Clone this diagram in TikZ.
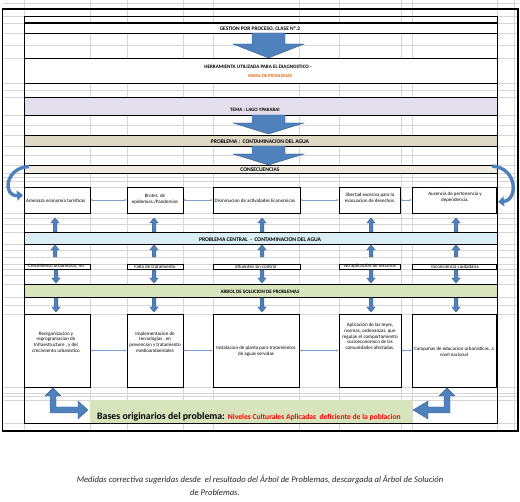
\documentclass[tikz,border=0pt]{standalone}
\usepackage{fontspec}
\setmainfont{Carlito}
\usetikzlibrary{arrows.meta}
\definecolor{ablue}{HTML}{4F81BD}
\definecolor{adark}{HTML}{385D8A}
\definecolor{thinblue}{HTML}{7F9FCF}
\definecolor{rowlav}{HTML}{E4DFEC}
\definecolor{rowtan}{HTML}{DDD9C4}
\definecolor{rowcons}{HTML}{EEECE1}
\definecolor{rowblue}{HTML}{DAEEF3}
\definecolor{rowgreen}{HTML}{D8E4BC}
\definecolor{orangetxt}{HTML}{E26B0A}
\definecolor{gridc}{HTML}{D6D6D6}
\newcommand\tf{\fontsize{5.0}{5.7}\selectfont}
\newcommand\fsz[1]{\fontsize{#1}{#1}\selectfont\bfseries}
\newcommand\upblk[3]{\filldraw[blk] (#1-1.8,#3) -- (#1-1.8,#2+5) -- (#1-4.2,#2+5) -- (#1,#2) -- (#1+4.2,#2+5) -- (#1+1.8,#2+5) -- (#1+1.8,#3) -- cycle;}
\newcommand\downblk[3]{\filldraw[blk] (#1-1.8,#2) -- (#1-1.8,#3-5) -- (#1-4.2,#3-5) -- (#1,#3) -- (#1+4.2,#3-5) -- (#1+1.8,#3-5) -- (#1+1.8,#2) -- cycle;}
\newcommand\bigblk[3]{\filldraw[blk] (252,#1) -- (252,#2) -- (233,#2) -- (268.5,#3) -- (304,#2) -- (285,#2) -- (285,#1) -- cycle;}
\begin{document}
\begin{tikzpicture}[x=1pt,y=-1pt,
  gridl/.style={draw=gridc,line width=0.4pt},
  bord/.style={draw=black,line width=0.8pt},
  cbox/.style={draw=black,line width=0.9pt,fill=white,inner sep=0,minimum height=26},
  pbox/.style={draw=black,line width=0.8pt,fill=white,inner sep=0,minimum height=5},
  sbox/.style={draw=black,line width=0.9pt,fill=white,inner sep=0,minimum height=73},
  lbl/.style={font=\tf,align=center,inner sep=0},
  ttl/.style={align=center,inner sep=0},
  dbl/.style={{Stealth[length=2.2pt,width=2.2pt]}-{Stealth[length=2.2pt,width=2.2pt]},draw=thinblue,line width=0.45pt},
  blk/.style={fill=ablue,draw=adark,line width=0.4pt},
  curv/.style={draw=ablue,line width=3.4pt,-{Triangle[length=6pt,width=10pt]}}]
\useasboundingbox (0,0) rectangle (520,502);
% spreadsheet gridlines
\foreach \yy in {3,16,23,33,45,58,83,90,97,115,125,135,146,155,165,173,177,181,187,213,218,224,232,244,250,257,264,269,275,284,297,305,314,387,393,396,400,423}
  \draw[gridl] (2.5,\yy) -- (518,\yy);
\foreach \xx in {24,90,127,183,213,299,339,401,412,497,514}
  \draw[gridl] (\xx,0) -- (\xx,431);
% merged / coloured rows
\fill[white] (24,23) rectangle (497,33);
\fill[white] (24,58) rectangle (497,83);
\fill[rowlav] (24,97) rectangle (497,115);
\fill[rowtan] (24,135) rectangle (497,146);
\fill[rowcons] (24,165) rectangle (497,173);
\fill[rowblue] (24,232) rectangle (497,244);
\fill[rowgreen] (24,284) rectangle (497,297);
% black borders
\foreach \yy in {33,58,83,97,115,135,146,165,173,232,244,284,297}
  \draw[bord] (24,\yy) -- (497,\yy);
\draw[draw=black,line width=1.3pt] (24,23) -- (497,23);
\draw[bord] (24,16) rectangle (497,423);
\draw[draw=black,line width=1.6pt] (2.5,9) rectangle (518,431);
% titles
\node[ttl,font=\fsz{5.4}] (t1) at (260,29) {GESTION POR PROCESO, CLASE Nº.2};
\node[ttl,font=\fsz{5.1}] (t2) at (258,67) {HERRAMIENTA UTILIZADA PARA EL DIAGNOSTICO -};
\node[ttl,font=\fsz{4.6},text=orangetxt] (t3) at (270,76) {ARBOL DE PROBLEMAS};
\node[ttl,font=\fsz{5.0}] (t4) at (255,110) {TEMA : LAGO YPAKARAI};
\node[ttl,font=\fsz{5.6}] (t5) at (260,141.5) {PROBLEMA :\ \ CONTAMINACION DEL AGUA};
\node[ttl,font=\fsz{5.6}] (t6) at (260,169.5) {CONSECUENCIAS};
\node[ttl,font=\fsz{5.6}] (t7) at (260,240) {PROBLEMA CENTRAL\ \ -\ \ CONTAMINACION DEL AGUA};
\node[ttl,font=\fsz{5.1}] (t8) at (260,291.5) {ARBOL DE SOLUCION DE PROBLEMAS};
% big arrows
\bigblk{33}{44}{58}
\bigblk{115}{123}{134}
\bigblk{146}{154}{165}
% consequence boxes
\node[cbox,minimum width=66] (c1) at (57,200) {};
\node[cbox,minimum width=56] (c2) at (155,200) {};
\node[cbox,minimum width=87] (c3) at (256.5,200) {};
\node[cbox,minimum width=61] (c4) at (369.5,200) {};
\node[cbox,minimum width=84] (c5) at (454,200) {};
\node[lbl,anchor=west] (c1t) at (26,201) {Amenaza economía turísticas};
\node[lbl] (c2t) at (155,199.5) {Brotes\ \ de\\epidemias./Pandemias};
\node[lbl,anchor=west] (c3t) at (214.5,201) {Disminucion de actividades Economicas};
\node[lbl] (c4t) at (370,197.5) {libertad excesiva para la\\evacuacion de desechos.};
\node[lbl] (c5t) at (455,197.5) {Ausencia de pertenencia y\\dependencia.};
\draw[dbl] (c1.east) -- (c2.west);
\draw[dbl] (c2.east) -- (c3.west);
\draw[dbl] (c3.east) -- (c4.west);
\draw[dbl] (c4.east) -- (c5.west);
% curved arrows
\draw[curv] (29,166.5) .. controls (4,168) and (3,197) .. (23,195);
\draw[curv] (492,166) .. controls (518,168) and (518,200) .. (498,202);
% up arrows to consequences
\foreach \xx in {55,154,262,371,456} {\upblk{\xx}{218}{232} \upblk{\xx}{245}{257}}
% problem boxes
\node[pbox,minimum width=66] (p1) at (57,266.5) {};
\node[pbox,minimum width=56] (p2) at (155,266.5) {};
\node[pbox,minimum width=87] (p3) at (256.5,266.5) {};
\node[pbox,minimum width=61] (p4) at (369.5,266.5) {};
\node[pbox,minimum width=84] (p5) at (454,266.5) {};
\node[lbl] (p1t) at (56,266.5) {Crecimiento urbanístico, no};
\node[lbl] (p2t) at (155,266.5) {Falta de tratamiento};
\node[lbl] (p3t) at (256,266.5) {Efluentes sin control};
\node[lbl] (p4t) at (370,266.5) {No aplicación de recursos};
\node[lbl] (p5t) at (455,266.5) {Inconciencia ciudadana};
\foreach \xx in {56,154,262,371,456} {\downblk{\xx}{270}{283} \downblk{\xx}{298}{312}}
% solution boxes
\node[sbox,minimum width=66] (s1) at (57,350.5) {};
\node[sbox,minimum width=56] (s2) at (155,350.5) {};
\node[sbox,minimum width=86] (s3) at (256,350.5) {};
\node[sbox,minimum width=62] (s4) at (370,350.5) {};
\node[sbox,minimum width=84] (s5) at (454,350.5) {};
\node[lbl] (s1t) at (56,342) {Reorganizacion y\\reprogramacion de\\Infraestructure , y del\\crecimiento urbanistico};
\node[lbl] (s2t) at (155,342) {Implementacion de\\tecnologias , en\\prevencion y tratamiento\\medioambientales};
\node[lbl] (s3t) at (256,351.5) {Instalacion de planta para tratamientos\\de aguas servidas};
\node[lbl] (s4t) at (370,336.5) {Aplicación de las leyes,\\normas, ordenanzas, que\\regulan el comportamiento\\socioeconomico de las\\comunidades afectadas.};
\node[lbl] (s5t) at (454,351.5) {Campañas de educacion urbanisticas, a\\nivel nacional};
\draw[dbl] (s1.east) -- (s2.west);
\draw[dbl] (s2.east) -- (s3.west);
\draw[dbl] (s3.east) -- (s4.west);
\draw[dbl] (s4.east) -- (s5.west);
% bases banner
\fill[rowgreen] (90,400) rectangle (412,423);
\node[inner sep=0,anchor=base west] (bases) at (97,419.5) {{\fontsize{9.8}{11}\selectfont\bfseries Bases originarios del problema:} {\color{red}\fontsize{7.6}{9}\selectfont\bfseries Niveles Culturales Aplicadas\ \ deficiente de la poblacion}};
% L arrows
\filldraw[blk] (53,388) -- (61,396) -- (56,396) -- (56,407) -- (78,407) -- (78,401) -- (88,410) -- (78,419) -- (78,413) -- (50,413) -- (50,396) -- (45,396) -- cycle;
\filldraw[blk] (447,388) -- (455,396) -- (450,396) -- (450,413) -- (428,413) -- (428,419) -- (413,410) -- (428,401) -- (428,407) -- (444,407) -- (444,396) -- (439,396) -- cycle;
% caption
\node[inner sep=0,font=\fontsize{8.6}{10}\selectfont\itshape,text=black!85] (cap1) at (260,480) {Medidas correctiva sugeridas desde\ \ el resultado del Árbol de Problemas, descargada al Árbol de Solución};
\node[inner sep=0,font=\fontsize{8.6}{10}\selectfont\itshape,text=black!85] (cap2) at (215,493) {de Problemas.};
\end{tikzpicture}
\end{document}
